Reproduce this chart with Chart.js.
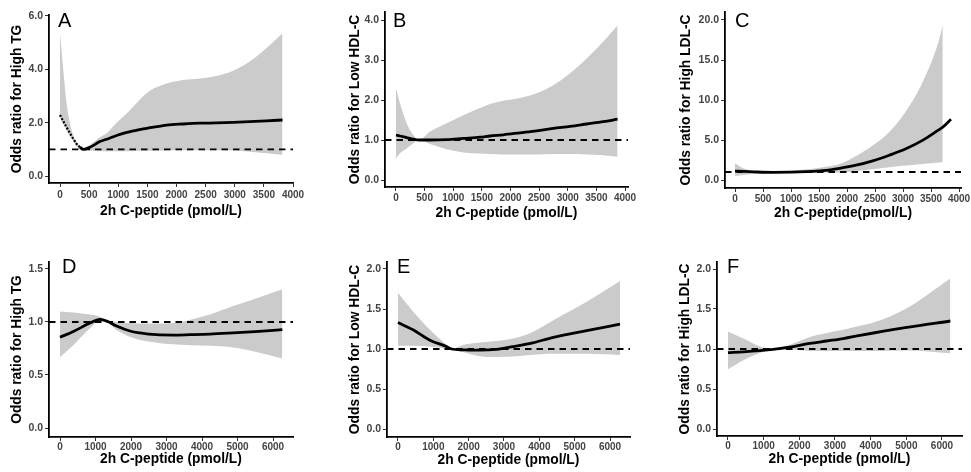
<!DOCTYPE html>
<html><head><meta charset="utf-8">
<script src="https://cdn.jsdelivr.net/npm/chart.js@4.4.1/dist/chart.umd.min.js"></script>
<style>
html,body{margin:0;padding:0;background:#fff;}
body{width:971px;height:472px;overflow:hidden;position:relative;}
canvas{position:absolute;}
</style></head><body>
<canvas id="cA"></canvas><canvas id="cB"></canvas><canvas id="cC"></canvas>
<canvas id="cD"></canvas><canvas id="cE"></canvas><canvas id="cF"></canvas>
<script>
// ---------- DATA ----------
const xTicks4000 = [0,500,1000,1500,2000,2500,3000,3500,4000];
const xTicks6000 = [0,1000,2000,3000,4000,5000,6000];
const yTicksA = [0,2,4,6];
const yTicksB = [0,1,2,3,4];
const yTicksC = [0,5,10,15,20];
const yTicksD = [0,0.5,1,1.5];
const yTicksEF = [0,0.5,1,1.5,2];

const xTitle1 = "2h C-peptide (pmol/L)";
const xTitle2 = "2h C-peptide(pmol/L)";
const yTitleTG = "Odds ratio for High TG";
const yTitleHDL = "Odds ratio for Low HDL-C";
const yTitleLDL = "Odds ratio for High LDL-C";

// Panel A
const xA  = [0,57,114,171,229,286,343,400,514,686,800,971,1100,1257,1430,1543,1830,2114,2400,2686,2971,3257,3543,3820];
const orA = [2.29,2.05,1.82,1.60,1.39,1.20,1.08,1.00,1.08,1.29,1.38,1.52,1.61,1.69,1.77,1.81,1.91,1.95,1.98,1.99,2.01,2.04,2.07,2.10];
const hiA = [5.35,3.97,2.73,1.98,1.50,1.28,1.12,1.00,1.16,1.45,1.60,2.00,2.25,2.60,3.00,3.20,3.47,3.60,3.66,3.75,3.95,4.29,4.79,5.35];
const loA = [2.20,1.95,1.72,1.50,1.30,1.12,1.02,1.00,0.96,0.93,0.93,0.93,0.93,0.94,0.95,0.95,0.96,0.97,0.97,0.97,0.96,0.91,0.85,0.79];
// Panel B
const xB  = [0,70,186,303,408,594,885,1176,1467,1642,1875,2166,2457,2748,3040,3330,3621,3870];
const orB = [1.125,1.10,1.06,1.02,1.00,1.00,1.01,1.04,1.07,1.10,1.13,1.18,1.23,1.29,1.34,1.40,1.46,1.52];
const hiB = [2.29,1.92,1.42,1.125,1.00,1.21,1.42,1.62,1.80,1.90,1.98,2.05,2.17,2.37,2.67,3.04,3.46,3.87];
const loB = [0.54,0.67,0.79,0.92,1.00,0.90,0.77,0.69,0.66,0.65,0.64,0.64,0.64,0.65,0.65,0.64,0.62,0.58];
// Panel C
const xC  = [0,148,400,681,1000,1274,1570,1867,2163,2459,2756,3052,3348,3644,3710,3857];
const orC = [1.12,1.08,1.00,0.96,0.98,1.04,1.17,1.46,1.85,2.40,3.10,3.90,4.95,6.30,6.60,7.60];
const hiC = [2.08,1.46,1.05,1.02,1.15,1.33,1.60,2.00,3.00,4.30,6.00,8.60,12.2,17.5,19.4];
const loC = [0.50,0.62,0.80,0.90,0.90,0.92,0.93,0.95,1.10,1.35,1.60,1.80,2.00,2.20,2.25];
// Panel D
const xD  = [0,375,844,1125,1312,1594,1969,2250,2719,3187,3656,4219,4875,5500,6263];
const orD = [0.856,0.91,0.99,1.025,1.01,0.962,0.915,0.897,0.88,0.877,0.88,0.885,0.897,0.91,0.928];
const hiD = [1.10,1.09,1.07,1.05,1.02,1.00,0.99,0.985,0.985,0.99,1.02,1.07,1.15,1.22,1.31];
const loD = [0.667,0.78,0.94,1.01,1.00,0.925,0.86,0.83,0.805,0.79,0.78,0.775,0.76,0.72,0.656];
// Panel E
const xE  = [0,427,904,1375,1517,1846,2318,2790,3260,3750,4399,5341,6283];
const orE = [1.33,1.24,1.11,1.03,1.00,0.99,0.985,0.995,1.03,1.07,1.146,1.23,1.31];
const hiE = [1.70,1.47,1.24,1.05,1.00,1.05,1.08,1.10,1.13,1.20,1.36,1.59,1.85];
const loE = [1.04,1.04,1.03,1.00,0.99,0.96,0.91,0.90,0.905,0.925,0.94,0.94,0.925];
// Panel F
const xF  = [0,430,897,1271,1832,2299,2766,3233,3700,4078,5016,6234];
const orF = [0.955,0.965,0.98,0.996,1.03,1.07,1.10,1.13,1.17,1.20,1.27,1.35];
const hiF = [1.22,1.13,1.03,1.00,1.07,1.15,1.20,1.24,1.29,1.33,1.51,1.88];
const loF = [0.746,0.86,0.95,0.99,0.99,0.975,0.975,0.975,0.975,0.975,0.98,0.946];
const refOR = 1;

// ---------- LAYOUT ----------
const FONT = "'Liberation Sans', Arial, Helvetica, sans-serif";
const TITLE_SIZE = 13.8, XTICK_SIZE = 10, YTICK_SIZE = 10.5;
const PAD_TOP = 10, PAD_RIGHT = 22, H_X = 38;

const panels = [
 {id:'cA', letter:'A', xs:xA, est:orA, hi:hiA, lo:loA, xTicks:xTicks4000, yTicks:yTicksA, xMin:-189, xMax:4000, yMin:-0.2625, yMax:6.0375, yTitle:yTitleTG, xTitle:xTitle1, L:49, R:293, T:15, B:183, Wy:50, yTitleOff:32, xTickPad:2, xTitleOff:28, ldx:9, ldy:12, dotTo:343},
 {id:'cB', letter:'B', xs:xB, est:orB, hi:hiB, lo:loB, xTicks:xTicks4000, yTicks:yTicksB, xMin:-192, xMax:4052, yMin:-0.175, yMax:4.2, yTitle:yTitleHDL, xTitle:xTitle1, L:385, R:628, T:12, B:187, Wy:50, yTitleOff:30, xTickPad:1.5, xTitleOff:26.5, ldx:8, ldy:15},
 {id:'cC', letter:'C', xs:xC, est:orC, hi:hiC, lo:loC, xTicks:xTicks4000, yTicks:yTicksC, xMin:-178.6, xMax:4035.7, yMin:-1, yMax:21, yTitle:yTitleLDL, xTitle:xTitle2, L:725, R:961, T:12, B:188, Wy:57, yTitleOff:39, xTickPad:1.5, xTitleOff:25, ldx:10, ldy:15},
 {id:'cD', letter:'D', xs:xD, est:orD, hi:hiD, lo:loD, xTicks:xTicks6000, yTicks:yTicksD, xMin:-310, xMax:6563, yMin:-0.0849, yMax:1.566, yTitle:yTitleTG, xTitle:xTitle1, L:49, R:293, T:262, B:437, Wy:50, yTitleOff:32, xTickPad:0, xTitleOff:22.5, ldx:13, ldy:11},
 {id:'cE', letter:'E', xs:xE, est:orE, hi:hiE, lo:loE, xTicks:xTicks6000, yTicks:yTicksEF, xMin:-311, xMax:6566, yMin:-0.1, yMax:2.0875, yTitle:yTitleHDL, xTitle:xTitle1, L:387, R:630, T:262, B:437, Wy:50, yTitleOff:32, xTickPad:0.5, xTitleOff:23, ldx:10, ldy:11},
 {id:'cF', letter:'F', xs:xF, est:orF, hi:hiF, lo:loF, xTicks:xTicks6000, yTicks:yTicksEF, xMin:-308, xMax:6561, yMin:-0.0875, yMax:2.0875, yTitle:yTitleLDL, xTitle:xTitle1, L:717, R:962, T:262, B:436, Wy:50, yTitleOff:32, xTickPad:0, xTitleOff:23, ldx:10, ldy:11}
];

function pts(xs, ys){ return ys.map((y,i)=>({x:xs[i], y:y})); }

const letterPlugin = {
  id:'panelLetter',
  afterDraw(chart, args, opts){
    const ctx = chart.ctx, ca = chart.chartArea;
    ctx.save();
    ctx.font = '20px ' + FONT;
    ctx.fillStyle = '#000';
    ctx.textAlign = 'left';
    ctx.textBaseline = 'alphabetic';
    ctx.fillText(opts.text, ca.left + opts.dx, ca.top + opts.dy);
    ctx.restore();
  }
};

panels.forEach(p => {
  const cv = document.getElementById(p.id);
  const left = p.L - p.Wy, top = p.T - PAD_TOP;
  const w = p.R - left + PAD_RIGHT, h = p.B - top + H_X;
  cv.width = w; cv.height = h;
  cv.style.left = left + 'px'; cv.style.top = top + 'px';
  cv.style.width = w + 'px'; cv.style.height = h + 'px';
  const lh = TITLE_SIZE * 1.2;
  const dotTo = p.dotTo;
  new Chart(cv, {
    type:'line',
    data:{ datasets:[
      {label:'OR', data:pts(p.xs, p.est), borderColor:'#000', borderWidth:2.8, pointRadius:0, fill:false,
       cubicInterpolationMode:'monotone', order:0, borderCapStyle:'butt',
       segment:{ borderDash: c => (dotTo !== undefined && c.p1.parsed.x <= dotTo) ? [2,1.6] : undefined,
                 borderWidth: c => (dotTo !== undefined && c.p1.parsed.x <= dotTo) ? 2.2 : undefined }},
      {label:'ref', data:[{x:p.xMin, y:refOR},{x:p.xMax, y:refOR}], borderColor:'#000', borderWidth:1.8,
       borderDash:[6.5,5], pointRadius:0, fill:false, order:1},
      {label:'upper', data:pts(p.xs, p.hi), borderWidth:0, borderColor:'rgba(0,0,0,0)', pointRadius:0,
       backgroundColor:'#cbcbcb', fill:'+1', cubicInterpolationMode:'monotone', order:2},
      {label:'lower', data:pts(p.xs, p.lo), borderWidth:0, borderColor:'rgba(0,0,0,0)', pointRadius:0,
       fill:false, cubicInterpolationMode:'monotone', order:3}
    ]},
    options:{
      responsive:false, animation:false, devicePixelRatio:1,
      layout:{ padding:{top:PAD_TOP, right:PAD_RIGHT, left:0, bottom:0} },
      plugins:{ legend:{display:false}, tooltip:{enabled:false},
                panelLetter:{text:p.letter, dx:p.ldx, dy:p.ldy} },
      scales:{
        x:{ type:'linear', min:p.xMin, max:p.xMax,
            afterBuildTicks: s => { s.ticks = p.xTicks.map(v => ({value:v})); },
            afterFit: s => { s.height = H_X; },
            ticks:{ autoSkip:false, maxRotation:0, minRotation:0, padding:p.xTickPad,
                    color:'#444', font:{family:FONT, size:XTICK_SIZE, weight:'bold'},
                    callback: v => String(v) },
            grid:{ drawOnChartArea:false, drawTicks:true, tickLength:4, color:'#333', lineWidth:1 },
            border:{ display:true, color:'#000', width:1.8 },
            title:{ display:true, text:p.xTitle, color:'#000',
                    font:{family:FONT, size:TITLE_SIZE, weight:'bold'},
                    padding:{top:0, bottom: H_X - p.xTitleOff - lh/2} } },
        y:{ type:'linear', min:p.yMin, max:p.yMax,
            afterBuildTicks: s => { s.ticks = p.yTicks.map(v => ({value:v})); },
            afterFit: s => { s.width = p.Wy; },
            ticks:{ padding:2, color:'#444', font:{family:FONT, size:YTICK_SIZE, weight:'bold'},
                    callback: v => Number(v).toFixed(1) },
            grid:{ drawOnChartArea:false, drawTicks:true, tickLength:4, color:'#333', lineWidth:1 },
            border:{ display:true, color:'#000', width:1.8 },
            title:{ display:true, text:p.yTitle, color:'#000',
                    font:{family:FONT, size:TITLE_SIZE, weight:'bold'},
                    padding:{top: p.Wy - p.yTitleOff - lh/2, bottom:0} } }
      }
    },
    plugins:[letterPlugin]
  });
});
</script>
</body></html>
